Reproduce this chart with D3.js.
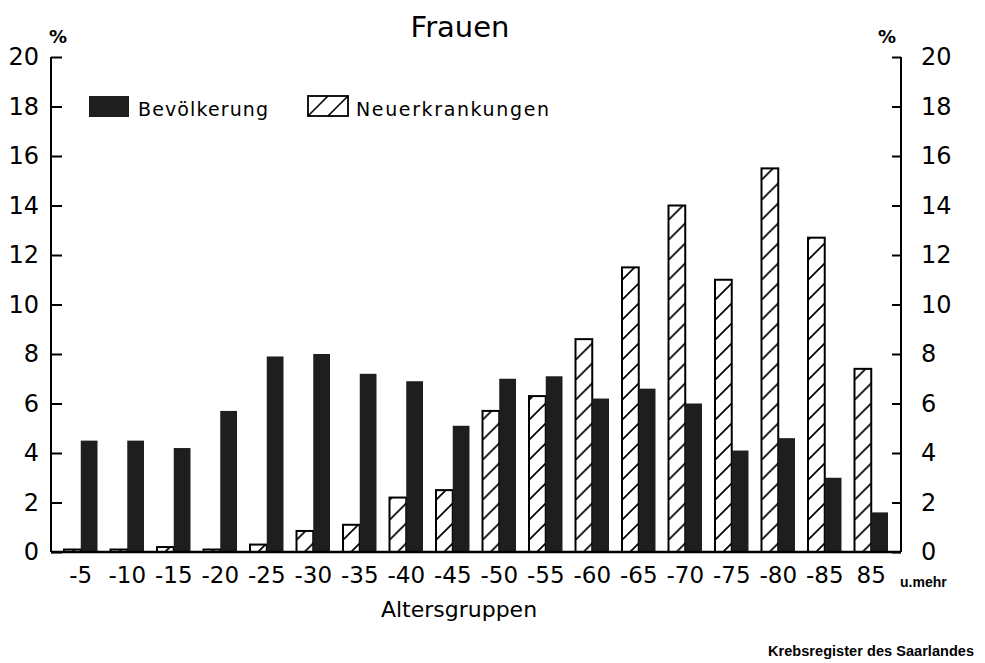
<!DOCTYPE html>
<html>
<head>
<meta charset="utf-8">
<script src="https://cdn.jsdelivr.net/npm/d3@7"></script>
<style>
  body { margin: 0; background: #fff; }
  svg { display: block; font-family: "DejaVu Sans", sans-serif; }
</style>
</head>
<body>
<div id="chart"></div>
<script>
// Altersgruppen (age groups), Frauen
const ageGroups = ["-5", "-10", "-15", "-20", "-25", "-30", "-35", "-40", "-45",
  "-50", "-55", "-60", "-65", "-70", "-75", "-80", "-85", "85"];
// Anteil Neuerkrankungen in % (hatched bars)
const neuerkrankungen = [0.1, 0.1, 0.2, 0.1, 0.3, 0.85, 1.1, 2.2, 2.5,
  5.7, 6.3, 8.6, 11.5, 14.0, 11.0, 15.5, 12.7, 7.4];
// Anteil Bevoelkerung in % (dark bars)
const bevoelkerung = [4.5, 4.5, 4.2, 5.7, 7.9, 8.0, 7.2, 6.9, 5.1,
  7.0, 7.1, 6.2, 6.6, 6.0, 4.1, 4.6, 3.0, 1.6];
const yTicks = [0, 2, 4, 6, 8, 10, 12, 14, 16, 18, 20];
const seriesNames = ["Bevölkerung", "Neuerkrankungen"];

const W = 985, H = 663;
const plotLeft = 51, plotRight = 901, plotTop = 57, plotBottom = 552;

const svg = d3.select("#chart").append("svg")
  .attr("width", W).attr("height", H);

// hatch pattern for the incidence bars (45 deg, ~20px apart)
const defs = svg.append("defs");
const pat = defs.append("pattern")
  .attr("id", "hatch")
  .attr("patternUnits", "userSpaceOnUse")
  .attr("width", 20).attr("height", 20);
pat.append("rect").attr("width", 20).attr("height", 20).attr("fill", "#fff");
pat.append("line")
  .attr("x1", -1).attr("y1", 21).attr("x2", 21).attr("y2", -1)
  .attr("stroke", "#000").attr("stroke-width", 1.7);

const x0 = d3.scaleBand().domain(ageGroups).range([plotLeft, plotRight]).padding(0.28);
const x1 = d3.scaleBand().domain(["neu", "bev"]).range([0, x0.bandwidth()]);
const y = d3.scaleLinear().domain([0, 20]).range([plotBottom, plotTop]);

// bars
const groups = svg.append("g").selectAll("g")
  .data(ageGroups)
  .join("g")
  .attr("transform", d => `translate(${x0(d)},0)`);

groups.append("rect")
  .attr("x", x1("neu"))
  .attr("y", (d, i) => y(neuerkrankungen[i]))
  .attr("width", x1.bandwidth())
  .attr("height", (d, i) => y(0) - y(neuerkrankungen[i]))
  .attr("fill", "url(#hatch)")
  .attr("stroke", "#000")
  .attr("stroke-width", 2);

groups.append("rect")
  .attr("x", x1("bev"))
  .attr("y", (d, i) => y(bevoelkerung[i]))
  .attr("width", x1.bandwidth())
  .attr("height", (d, i) => y(0) - y(bevoelkerung[i]))
  .attr("fill", "#1e1e1e");

// axes
const yLeft = d3.axisLeft(y).tickValues(yTicks).tickSize(-11).tickPadding(22);
const yRight = d3.axisRight(y).tickValues(yTicks).tickSize(-9).tickPadding(20);

const gl = svg.append("g").attr("transform", `translate(${plotLeft},0)`).call(yLeft);
const gr = svg.append("g").attr("transform", `translate(${plotRight},0)`).call(yRight);
[gl, gr].forEach(g => {
  g.select(".domain").remove();
  g.selectAll(".tick line").attr("stroke", "#000").attr("stroke-width", 2);
  g.selectAll(".tick text")
    .attr("font-size", 24)
    .attr("font-family", "DejaVu Sans, sans-serif")
    .attr("fill", "#000");
});
gl.selectAll(".tick text").attr("dx", 10);

// axis lines and baseline
svg.append("line").attr("x1", plotLeft).attr("x2", plotLeft).attr("y1", plotTop).attr("y2", plotBottom)
  .attr("stroke", "#000").attr("stroke-width", 2);
svg.append("line").attr("x1", plotRight).attr("x2", plotRight).attr("y1", plotTop).attr("y2", plotBottom)
  .attr("stroke", "#000").attr("stroke-width", 2);
svg.append("line").attr("x1", plotLeft).attr("x2", plotRight).attr("y1", plotBottom).attr("y2", plotBottom)
  .attr("stroke", "#000").attr("stroke-width", 2.5);

// x labels
const gx = svg.append("g").attr("transform", `translate(0,${plotBottom})`)
  .call(d3.axisBottom(x0).tickSize(0).tickPadding(14));
gx.select(".domain").remove();
gx.selectAll(".tick text")
  .attr("font-size", 23)
  .attr("font-family", "DejaVu Sans, sans-serif")
  .attr("fill", "#000")
  .attr("dy", "0.72em");

svg.append("text").attr("x", 900).attr("y", 587)
  .attr("font-family", "Liberation Sans, Arial, sans-serif")
  .attr("font-size", 14).attr("font-weight", "bold").text("u.mehr");

// % labels
svg.append("text").attr("x", 58).attr("y", 43).attr("text-anchor", "middle")
  .attr("font-size", 18).attr("font-weight", "bold").text("%");
svg.append("text").attr("x", 887).attr("y", 43).attr("text-anchor", "middle")
  .attr("font-size", 18).attr("font-weight", "bold").text("%");

// title
svg.append("text").attr("x", 460).attr("y", 37).attr("text-anchor", "middle")
  .attr("font-size", 29).text("Frauen");

// x axis title
svg.append("text").attr("x", 459).attr("y", 617).attr("text-anchor", "middle")
  .attr("font-size", 22).text("Altersgruppen");

// source
svg.append("text").attr("x", 768).attr("y", 656)
  .attr("font-family", "Liberation Sans, Arial, sans-serif")
  .attr("font-size", 14.5).attr("font-weight", "bold")
  .attr("textLength", 206).attr("lengthAdjust", "spacing")
  .text("Krebsregister des Saarlandes");

// legend
const legend = svg.append("g");
legend.append("rect").attr("x", 89).attr("y", 96).attr("width", 40).attr("height", 21)
  .attr("fill", "#1e1e1e");
legend.append("text").attr("x", 138).attr("y", 116).attr("font-size", 19)
  .attr("textLength", 130).attr("lengthAdjust", "spacing")
  .text(seriesNames[0]);
legend.append("rect").attr("x", 308).attr("y", 96).attr("width", 40).attr("height", 20)
  .attr("fill", "#fff").attr("stroke", "#000").attr("stroke-width", 1.8);
legend.append("path")
  .attr("d", "M308,116 L328,96 M328,116 L348,96")
  .attr("stroke", "#000").attr("stroke-width", 1.6);
legend.append("text").attr("x", 356).attr("y", 116).attr("font-size", 19)
  .attr("textLength", 193).attr("lengthAdjust", "spacing")
  .text(seriesNames[1]);
</script>
</body>
</html>
